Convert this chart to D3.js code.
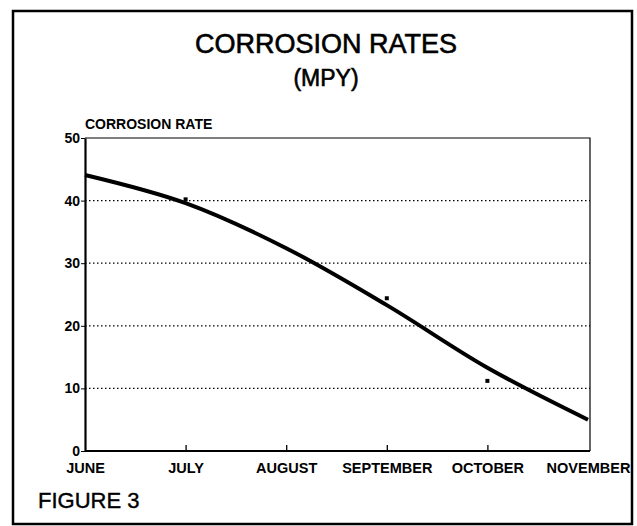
<!DOCTYPE html>
<html>
<head>
<meta charset="utf-8">
<script src="https://cdn.jsdelivr.net/npm/d3@7"></script>
<style>
	body { margin: 0; background: #fff; }
	text { font-family: "Liberation Sans", Arial, sans-serif; fill: #000; }
</style>
</head>
<body>
<svg id="chart" width="637" height="526"></svg>
<script>

// months along the x axis
var months = ['JUNE', 'JULY', 'AUGUST', 'SEPTEMBER', 'OCTOBER', 'NOVEMBER']
// fitted curve, read at each month
var curveValues = [44.1, 39.6, 32.4, 23.3, 13.3, 5.0]
// measured points
var pointMonths = ['JULY', 'SEPTEMBER', 'OCTOBER']
var pointValues = [40.2, 24.4, 11.2]
var yTicks = [0, 10, 20, 30, 40, 50]

var svg = d3.select('#chart')
	, plotLeft = 85
	, plotRight = 588
	, plotTop = 138
	, plotBottom = 451
	, boldFont = '"Liberation Sans", Arial, sans-serif'

var x = d3.scalePoint().domain(months).range([plotLeft, plotRight])
var y = d3.scaleLinear().domain([0, 50]).range([plotBottom, plotTop])

// outer frame
svg.append('rect')
	.attr('x', 13).attr('y', 11)
	.attr('width', 619).attr('height', 513)
	.attr('fill', 'none').attr('stroke', '#000').attr('stroke-width', 2.5)

// titles
svg.append('text').attr('x', 326).attr('y', 53)
	.attr('text-anchor', 'middle').style('font-size', '27px')
	.style('stroke', '#000').style('stroke-width', 0.6)
	.text('CORROSION RATES')
svg.append('text').attr('x', 326).attr('y', 86)
	.attr('text-anchor', 'middle').style('font-size', '23px')
	.style('stroke', '#000').style('stroke-width', 0.6)
	.text('(MPY)')
svg.append('text').attr('x', plotLeft).attr('y', 129)
	.style('font-size', '14px').style('font-weight', 'bold')
	.text('CORROSION RATE')
svg.append('text').attr('x', 38).attr('y', 508)
	.style('font-size', '22px')
	.style('stroke', '#000').style('stroke-width', 0.4)
	.text('FIGURE 3')

// grid lines
svg.append('g').selectAll('line').data([10, 20, 30, 40])
  .enter()
	.append('line')
	.attr('x1', plotLeft).attr('x2', plotRight + 2)
	.attr('y1', function(d) { return y(d) })
	.attr('y2', function(d) { return y(d) })
	.attr('stroke', '#000').attr('stroke-width', 1.3)
	.attr('stroke-dasharray', '1.5,2.5')

// plot frame: thin top/right, heavier left/bottom
svg.append('path')
	.attr('d', 'M' + plotLeft + ',' + plotTop + 'H' + (plotRight + 2) + 'V' + plotBottom)
	.attr('fill', 'none').attr('stroke', '#000').attr('stroke-width', 1.2)

// y axis
var yAxis = svg.append('g')
	.attr('transform', 'translate(' + plotLeft + ',0)')
	.call(d3.axisLeft(y).tickValues(yTicks).tickSize(4).tickSizeOuter(0).tickFormat(d3.format('d')))
yAxis.select('.domain').attr('stroke-width', 2.2)
yAxis.selectAll('text')
	.style('font-size', '14px').style('font-weight', 'bold')
	.style('font-family', boldFont)
	.attr('x', -5)

// x axis (ticks point inward)
var xAxis = svg.append('g')
	.attr('transform', 'translate(0,' + plotBottom + ')')
	.call(d3.axisTop(x).tickSize(6).tickSizeOuter(0))
xAxis.select('.domain').attr('stroke-width', 2.2)
	.attr('d', 'M' + plotLeft + ',0H' + (plotRight + 2))
xAxis.selectAll('.tick line').attr('stroke-width', 1.3)
xAxis.selectAll('.tick').filter(function(d, i) { return i === 0 || i === months.length - 1 })
	.select('line').remove()
xAxis.selectAll('text')
	.attr('y', 22)
	.style('font-size', '14.5px').style('font-weight', 'bold')
	.style('font-family', boldFont)
	.attr('text-anchor', 'middle')

// fitted curve
var line = d3.line()
	.x(function(d, i) { return x(months[i]) })
	.y(function(d) { return y(d) })
	.curve(d3.curveCatmullRom.alpha(0.5))

svg.append('path')
	.datum(curveValues)
	.attr('d', line)
	.attr('fill', 'none').attr('stroke', '#000').attr('stroke-width', 4)

// measured points
svg.append('g').selectAll('rect').data(pointValues)
  .enter()
	.append('rect')
	.attr('x', function(d, i) { return x(pointMonths[i]) - 2 })
	.attr('y', function(d) { return y(d) - 2 })
	.attr('width', 4).attr('height', 4)
	.attr('fill', '#000')

</script>
</body>
</html>
